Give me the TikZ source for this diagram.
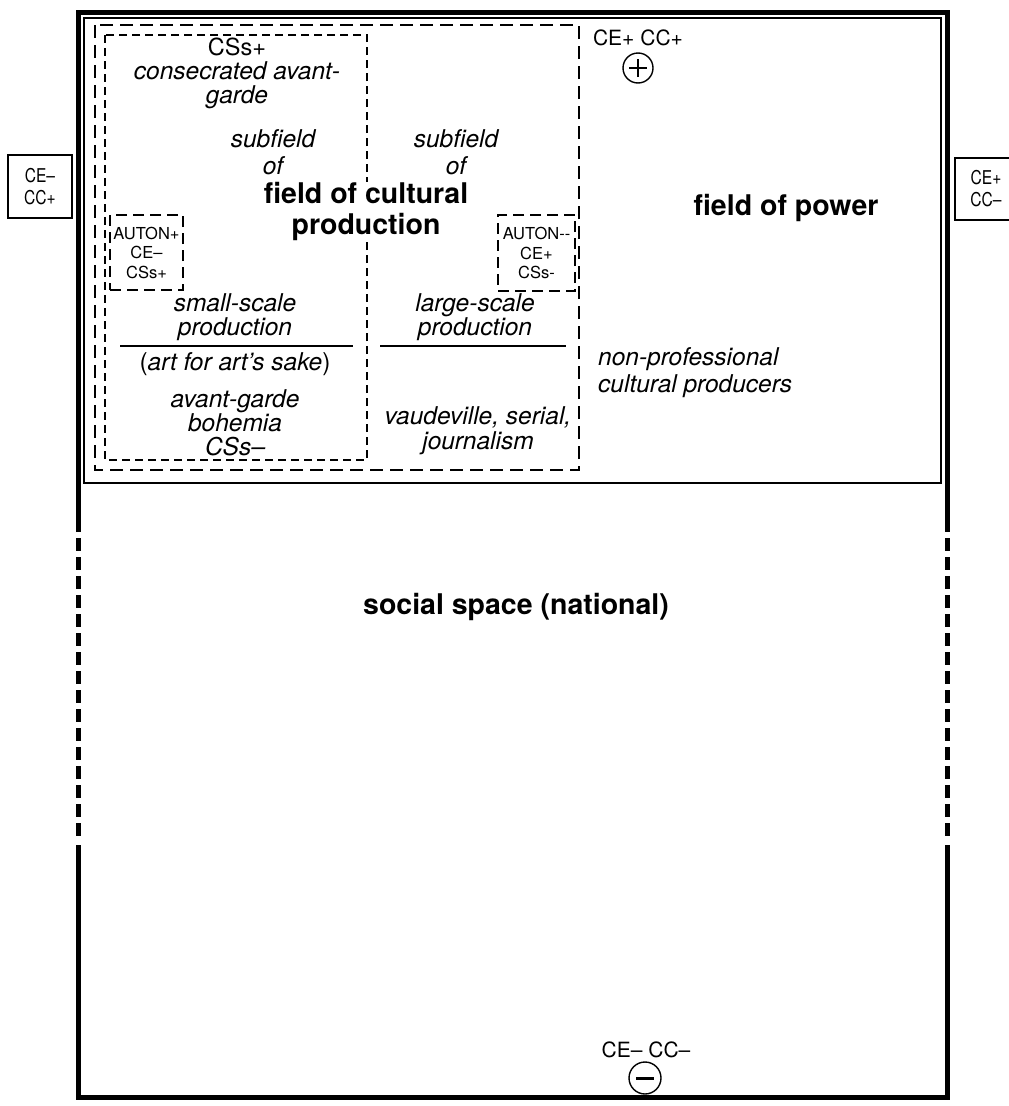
\documentclass[tikz,border=0pt]{standalone}
\usepackage{fontspec}
\setmainfont{TeX Gyre Heros}
\newfontfamily\condfont[FakeStretch=0.82]{TeX Gyre Heros}
\begin{document}
\begin{tikzpicture}[x=1pt,y=-1pt,
  frame/.style={line width=5pt, line join=miter},
  thin/.style={line width=1.4pt},
  outerdash/.style={line width=2pt, dash pattern=on 13pt off 7pt},
  innerdash/.style={line width=1.2pt, dash pattern=on 8pt off 5pt},
  autbox/.style={draw, line width=2pt, dash pattern=on 11pt off 6pt, inner sep=0pt,
    font=\fontsize{16.5}{19.5}\selectfont, align=center},
  ittext/.style={font=\fontsize{24.5}{24}\selectfont\itshape, align=center, inner sep=0pt},
  uptext/.style={font=\fontsize{23.5}{24}\selectfont, align=center, inner sep=0pt},
  boldtext/.style={font=\fontsize{28.5}{31}\selectfont\bfseries, align=center, inner sep=0pt},
  sidebox/.style={draw, thin, font=\condfont\fontsize{19}{22}\selectfont, align=center, inner sep=0pt},
  signcircle/.style={draw, circle, line width=1.4pt, inner sep=0pt}
]
\useasboundingbox (0,0) rectangle (1009,1106);

% outer frame (social space)
\draw[frame] (78,532) -- (78,12) -- (947,12) -- (947,532);
\draw[frame] (78,845) -- (78,1097) -- (947,1097) -- (947,845);
\draw[frame, dash pattern=on 13pt off 6pt] (78,538) -- (78,840);
\draw[frame, dash pattern=on 13pt off 6pt] (947,538) -- (947,840);

% field of power
\draw[thin] (84,18) rectangle (941,483);

% field of cultural production
\draw[outerdash] (95,25) rectangle (579,470);
% subfield of small-scale production
\draw[innerdash] (105,35) rectangle (367,460);

% side boxes
\node[sidebox, minimum width=64pt, minimum height=63pt] (leftbox) at (40,186.5) {CE–\\CC+};
\node[sidebox, minimum width=62pt, minimum height=62pt] (rightbox) at (986,189) {CE+\\CC–};

% autonomy boxes
\node[autbox, minimum width=73pt, minimum height=75pt] (auton1) at (146.5,252.5) {AUTON+\\CE–\\CSs+};
\node[autbox, minimum width=77pt, minimum height=76pt] (auton2) at (536.5,253) {AUTON-{}-\\CE+\\CSs-};

% texts
\node[ittext] (cons) at (237,73) {{\upshape\fontsize{23.5}{24}\selectfont CSs+}\\consecrated avant-\\garde};
\node[ittext, font=\fontsize{24.5}{27}\selectfont\itshape] (sub1) at (273,152) {subfield\\of};
\node[ittext, font=\fontsize{24.5}{27}\selectfont\itshape] (sub2) at (456,152) {subfield\\of};
\node[boldtext, fill=white] (fcp) at (366,211) {field of cultural\\production};

\node[ittext] (small) at (235,317) {small-scale\\production};
\node[ittext] (art) at (235,364) {{\upshape(}art for art's sake{\upshape)}};
\node[ittext] (bohemia) at (235,423) {avant-garde\\bohemia\\CSs–};

\node[ittext] (large) at (475,317) {large-scale\\production};
\node[ittext, font=\fontsize{24.5}{25}\selectfont\itshape] (vaud) at (478,431) {vaudeville, serial,\\journalism};

\coordinate (r1a) at (120,346);
\coordinate (r1b) at (353,346);
\coordinate (r2a) at (380,346);
\coordinate (r2b) at (566,346);
\draw[thin] (r1a) -- (r1b);
\draw[thin] (r2a) -- (r2b);

\node[ittext, align=left, anchor=west, font=\fontsize{24.5}{27}\selectfont\itshape] (nonprof) at (598,373) {non-professional\\cultural producers};

\node[uptext, font=\fontsize{21}{24}\selectfont] (top) at (638,38) {CE+ CC+};
\node[signcircle, minimum size=30pt] (plus) at (638,68) {};
\draw[line width=2pt] ([xshift=-9pt]plus.center) -- ([xshift=9pt]plus.center);
\draw[line width=2pt] ([yshift=-9pt]plus.center) -- ([yshift=9pt]plus.center);

\node[boldtext] (power) at (786,208) {field of power};
\node[boldtext] (social) at (516,607) {social space (national)};

\node[uptext, font=\fontsize{21}{24}\selectfont] (bottom) at (646,1050) {CE– CC–};
\node[signcircle, minimum size=32pt] (minus) at (645,1078) {};
\draw[line width=3pt] ([xshift=-9pt]minus.center) -- ([xshift=9pt]minus.center);
\end{tikzpicture}
\end{document}
